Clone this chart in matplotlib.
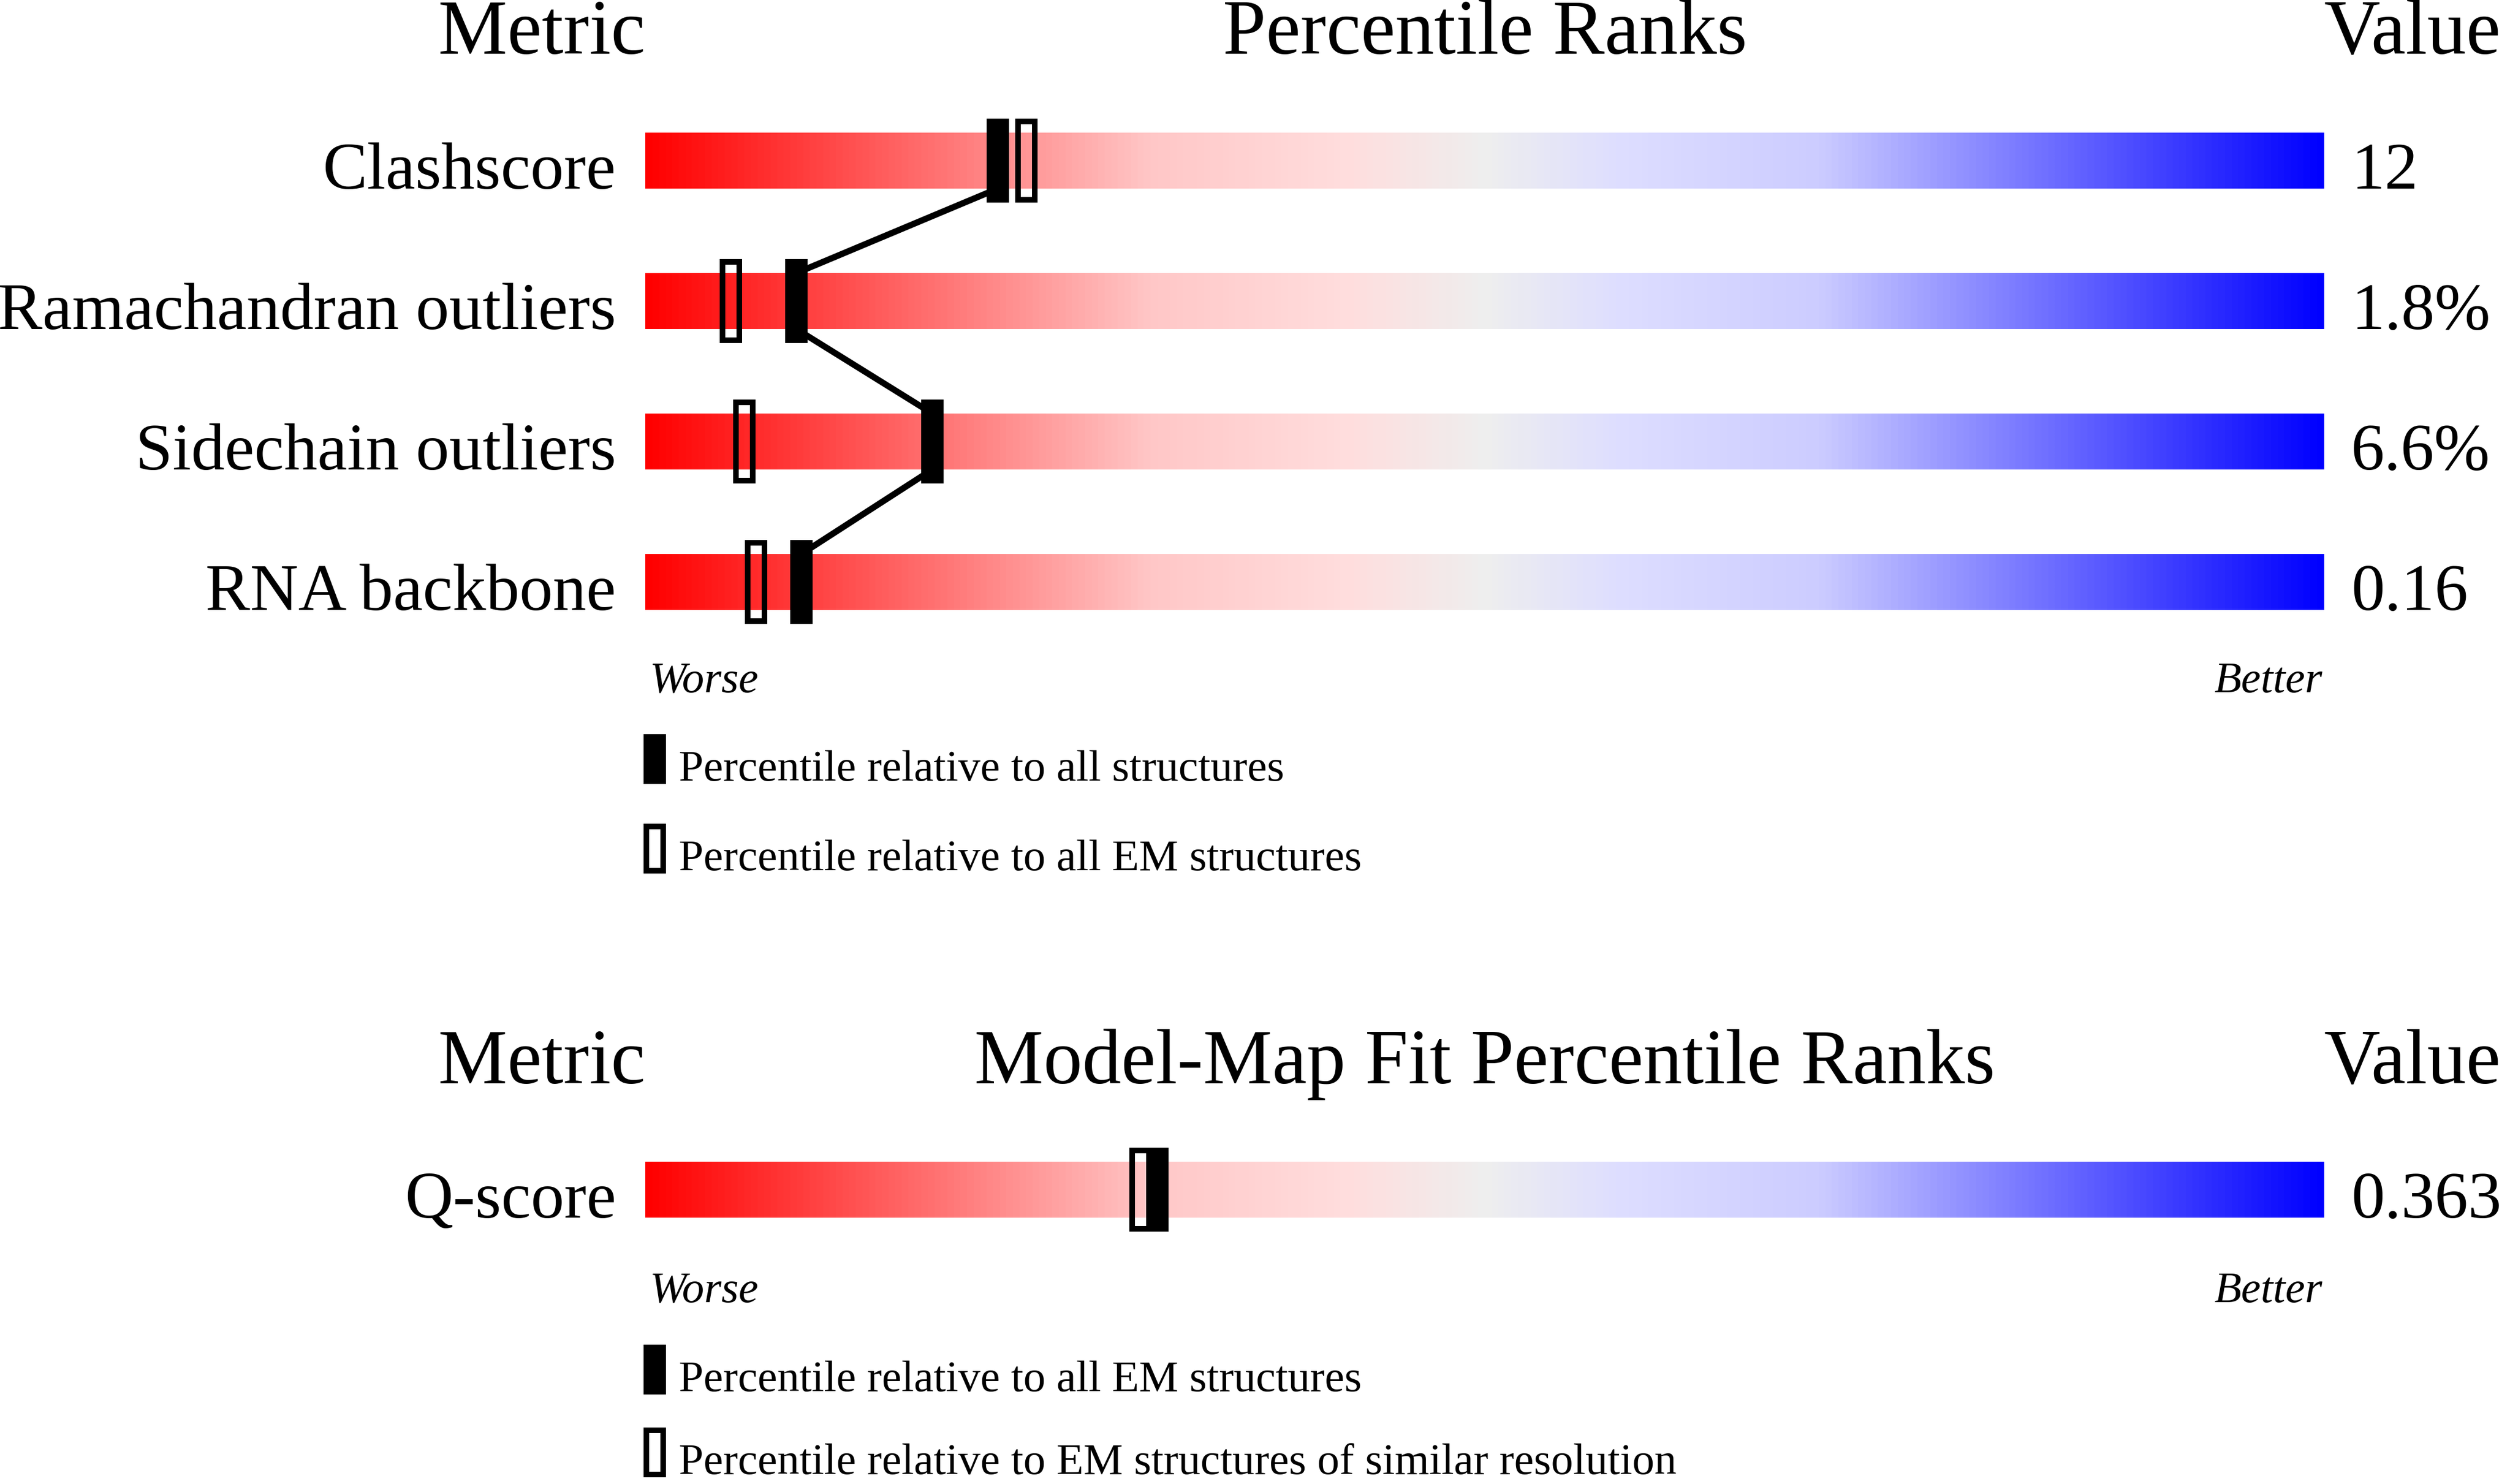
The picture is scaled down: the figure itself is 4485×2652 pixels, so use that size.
import numpy as np
import matplotlib
matplotlib.use("Agg")
import matplotlib.pyplot as plt
from matplotlib.colors import LinearSegmentedColormap
from matplotlib.patches import Rectangle

# ---------------- data ----------------
metrics = ["Clashscore", "Ramachandran outliers", "Sidechain outliers", "RNA backbone"]
values = ["12", "1.8%", "6.6%", "0.16"]
pct_all = [21.0, 9.0, 17.1, 9.3]          # filled markers: relative to all structures
pct_em = [22.7, 5.1, 5.9, 6.6]            # open markers: relative to all EM structures

fit_metrics = ["Q-score"]
fit_values = ["0.363"]
fit_pct_em = [30.5]                        # filled: relative to all EM structures
fit_pct_res = [29.5]                       # open: EM structures of similar resolution

top_title = "Percentile Ranks"
bottom_title = "Model-Map Fit Percentile Ranks"
legend_top = ["Percentile relative to all structures", "Percentile relative to all EM structures"]
legend_bottom = ["Percentile relative to all EM structures",
                 "Percentile relative to EM structures of similar resolution"]

# ---------------- layout (pixels) ----------------
W, H = 4485, 2652
BAR_L, BAR_R = 1153, 4153
PX = (BAR_R - BAR_L) / 100.0              # pixels per percentile unit
top_rows = [287, 538, 789, 1040]
bottom_rows = [2126]
BAR_H = 100
MK_W = 40 / PX
MK_H = 150
EDGE_PX = 10

plt.rcParams['font.family'] = ['Liberation Serif', 'DejaVu Serif']
fig = plt.figure(figsize=(W / 100, H / 100), dpi=100)
ax = fig.add_axes([0, 0, 1, 1])
ax.set_axis_off()

cmap = LinearSegmentedColormap.from_list("slider", [
    (0.00, (1.00, 0.00, 0.00)),
    (0.30, (1.00, 0.78, 0.78)),
    (0.42, (1.00, 0.87, 0.87)),
    (0.50, (0.935, 0.935, 0.935)),
    (0.58, (0.87, 0.87, 1.00)),
    (0.70, (0.80, 0.80, 1.00)),
    (1.00, (0.00, 0.00, 1.00)),
])
grad = np.linspace(0, 1, 1000).reshape(1, -1)

HDR = 100     # pt
LBL = 86
SML = 57
lw_edge = EDGE_PX * 72 / 100


def panel(rows, names, vals, filled, opened, title, header_y, worse_y, leg_y, leg_txt, connect):
    ax.text(0, header_y, "Metric", ha="right", va="baseline", fontsize=HDR)
    ax.text(50, header_y, title, ha="center", va="baseline", fontsize=HDR)
    ax.text(100, header_y, "Value", ha="left", va="baseline", fontsize=HDR)
    for yc, name, val in zip(rows, names, vals):
        ax.imshow(grad, cmap=cmap, aspect="auto", interpolation="bilinear",
                  extent=[0, 100, yc + BAR_H / 2, yc - BAR_H / 2], zorder=1)
        ax.text(-1.75, yc + BAR_H / 2, name, ha="right", va="baseline", fontsize=LBL)
        ax.text(101.6, yc + BAR_H / 2, val, ha="left", va="baseline", fontsize=LBL)
    if connect:
        for i in range(len(rows) - 1):
            ax.plot([filled[i], filled[i + 1]],
                    [rows[i] + BAR_H / 2, rows[i + 1] - BAR_H / 2],
                    color="black", lw=8, solid_capstyle="butt", zorder=2)
    ins = EDGE_PX / 2
    for yc, p in zip(rows, opened):
        ax.add_patch(Rectangle((p - MK_W / 2 + ins / PX, yc - MK_H / 2 + ins),
                               MK_W - EDGE_PX / PX, MK_H - EDGE_PX,
                               facecolor="none", edgecolor="black", lw=lw_edge, zorder=3))
    for yc, p in zip(rows, filled):
        ax.add_patch(Rectangle((p - MK_W / 2, yc - MK_H / 2), MK_W, MK_H,
                               facecolor="black", edgecolor="none", zorder=4))
    ax.text(0.25, worse_y, "Worse", ha="left", va="baseline", fontsize=SML, style="italic")
    ax.text(99.9, worse_y, "Better", ha="right", va="baseline", fontsize=SML, style="italic")
    # legend
    lx = -0.1
    ax.add_patch(Rectangle((lx, leg_y[0] - 83), MK_W, 89, facecolor="black",
                           edgecolor="none", zorder=4))
    ax.add_patch(Rectangle((lx + ins / PX, leg_y[1] - 83 + ins), MK_W - EDGE_PX / PX, 89 - EDGE_PX,
                           facecolor="none", edgecolor="black", lw=lw_edge, zorder=4))
    for ly, t in zip(leg_y, leg_txt):
        ax.text(2.0, ly, t, ha="left", va="baseline", fontsize=SML)


panel(top_rows, metrics, values, pct_all, pct_em, top_title,
      96, 1237, [1395, 1555], legend_top, True)
panel(bottom_rows, fit_metrics, fit_values, fit_pct_em, fit_pct_res, bottom_title,
      1936, 2327, [2486, 2634], legend_bottom, False)

ax.set_xlim(-BAR_L / PX, (W - BAR_L) / PX)
ax.set_ylim(H, 0)
fig.savefig("out.png", dpi=100, facecolor="white")
